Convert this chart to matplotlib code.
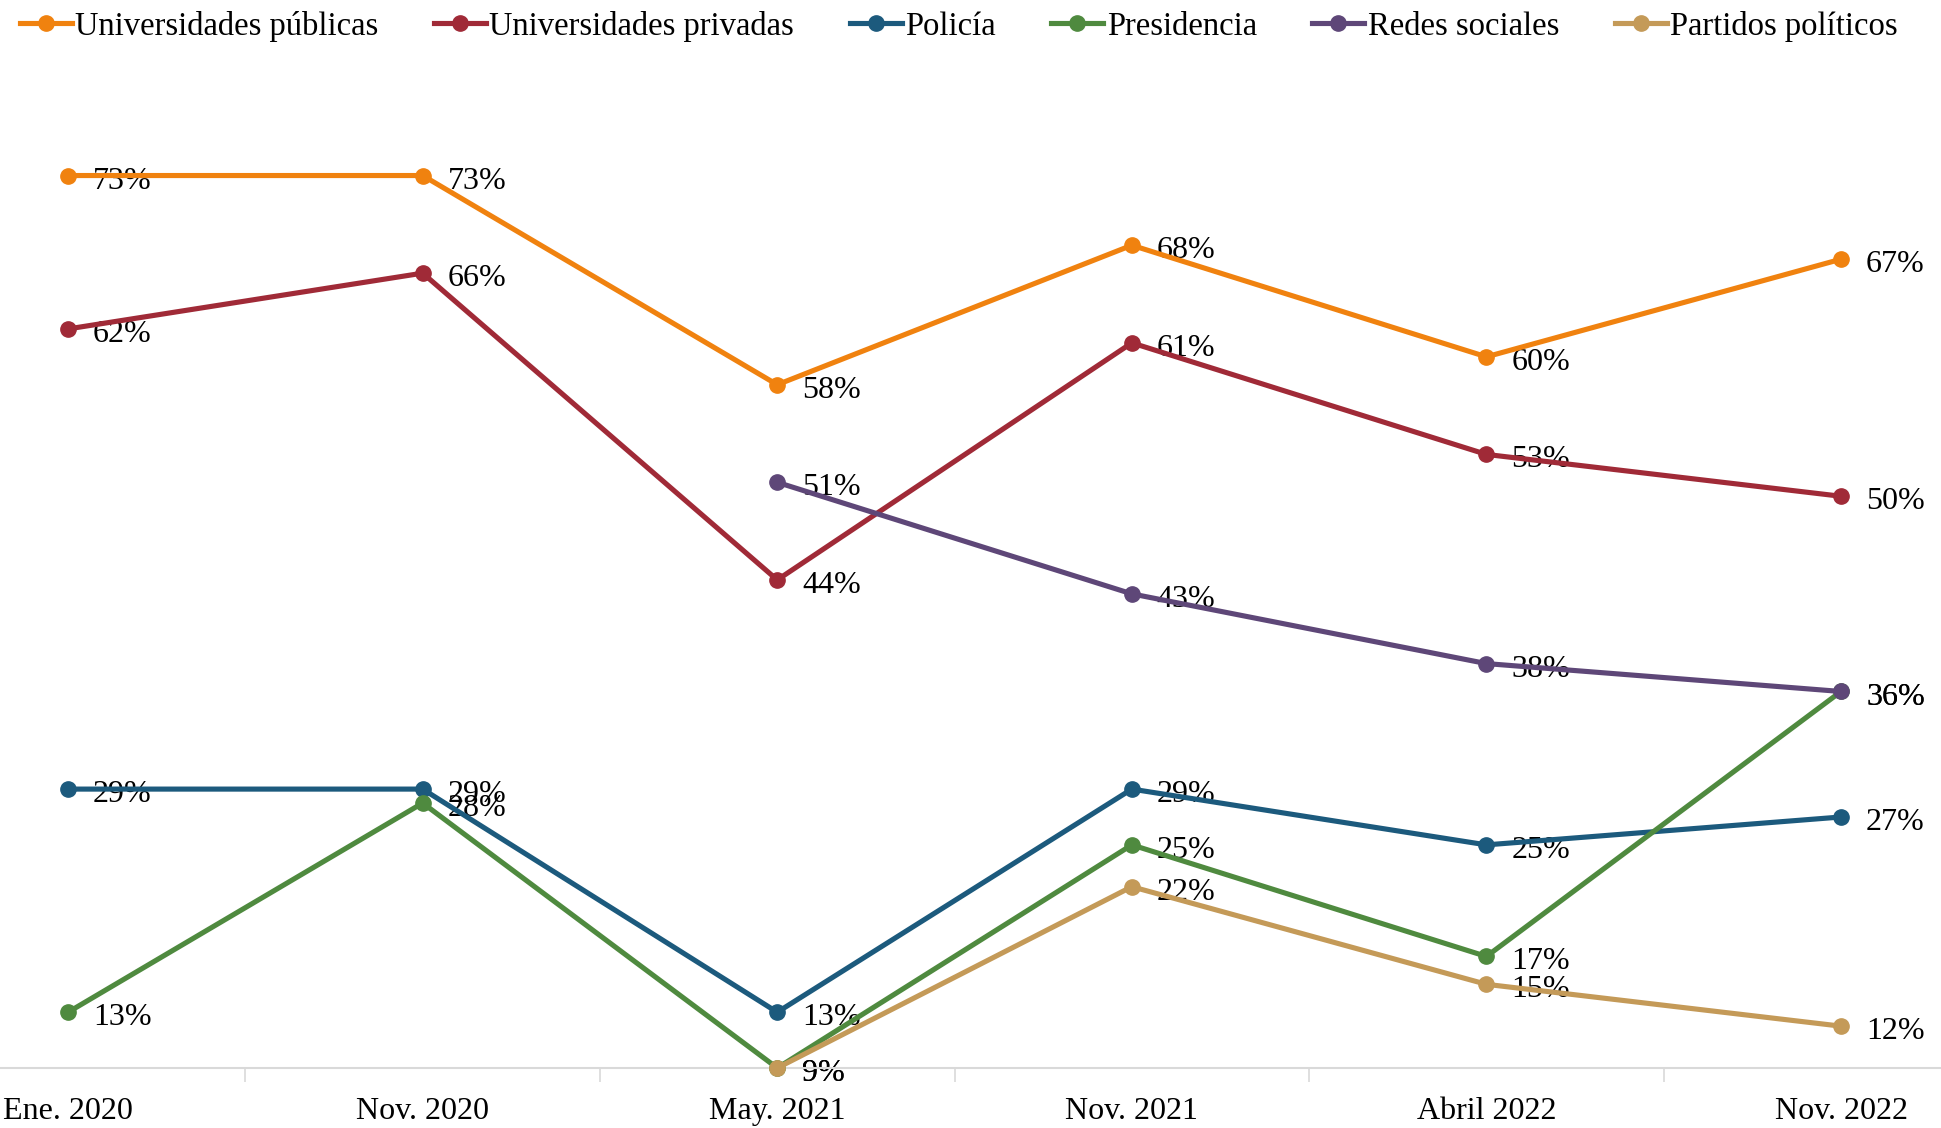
import numpy as np
import matplotlib
matplotlib.use("Agg")
from matplotlib import pyplot as plt
from matplotlib.ticker import FixedLocator

# periods on the x axis
periods = ["Ene. 2020", "Nov. 2020", "May. 2021", "Nov. 2021", "Abril 2022", "Nov. 2022"]

# confidence values per institution (%), None where not asked
publicas = [73, 73, 58, 68, 60, 67]
privadas = [62, 66, 44, 61, 53, 50]
policia = [29, 29, 13, 29, 25, 27]
presidencia = [13, 28, 9, 25, 17, 36]
redes = [None, None, 51, 43, 38, 36]
partidos = [None, None, 9, 22, 15, 12]

names = ["Universidades públicas", "Universidades privadas", "Policía",
         "Presidencia", "Redes sociales", "Partidos políticos"]
series = [publicas, privadas, policia, presidencia, redes, partidos]
colors = ["#F0820F", "#A02A37", "#1C5A7D", "#4F8A3F", "#5E4778", "#C49A58"]

plt.rcParams['font.family'] = ['Liberation Serif', 'DejaVu Serif']

fig = plt.figure(figsize=(19.41, 11.28), dpi=100)
ax = fig.add_axes([0, 0.0532, 1, 0.853])

x = np.arange(len(periods))
for name, vals, col in zip(names, series, colors):
    xs = [i for i, v in zip(x, vals) if v is not None]
    ys = [v for v in vals if v is not None]
    ax.plot(xs, ys, color=col, lw=3.7, marker='o', markersize=11,
            label=name, zorder=3, clip_on=False)
    for xi, yi in zip(xs, ys):
        ax.annotate(f"{yi}%", (xi, yi), xytext=(18, -4), textcoords='offset points',
                    ha='left', va='center', fontsize=23, color='black', zorder=2)

ax.set_xlim(-0.192, 5.282)
ax.set_ylim(9, 78)
ax.set_yticks([])
ax.set_xticks(x)
ax.set_xticklabels(periods, fontsize=23)
ax.xaxis.set_minor_locator(FixedLocator(x[:-1] + 0.5))
ax.tick_params(axis='x', which='major', length=0, pad=21)
ax.tick_params(axis='x', which='minor', length=10, width=1.2, color='#D9D9D9')
for s in ['top', 'left', 'right']:
    ax.spines[s].set_visible(False)
ax.spines['bottom'].set_color('#D9D9D9')
ax.spines['bottom'].set_linewidth(1.5)

fig.legend(loc='upper left', bbox_to_anchor=(0.0, 1.008), ncol=6, frameon=False,
           fontsize=23.5, handlelength=1.6, handletextpad=0.1, columnspacing=1.7,
           borderaxespad=0.2)

fig.savefig("out.png", dpi=100)
